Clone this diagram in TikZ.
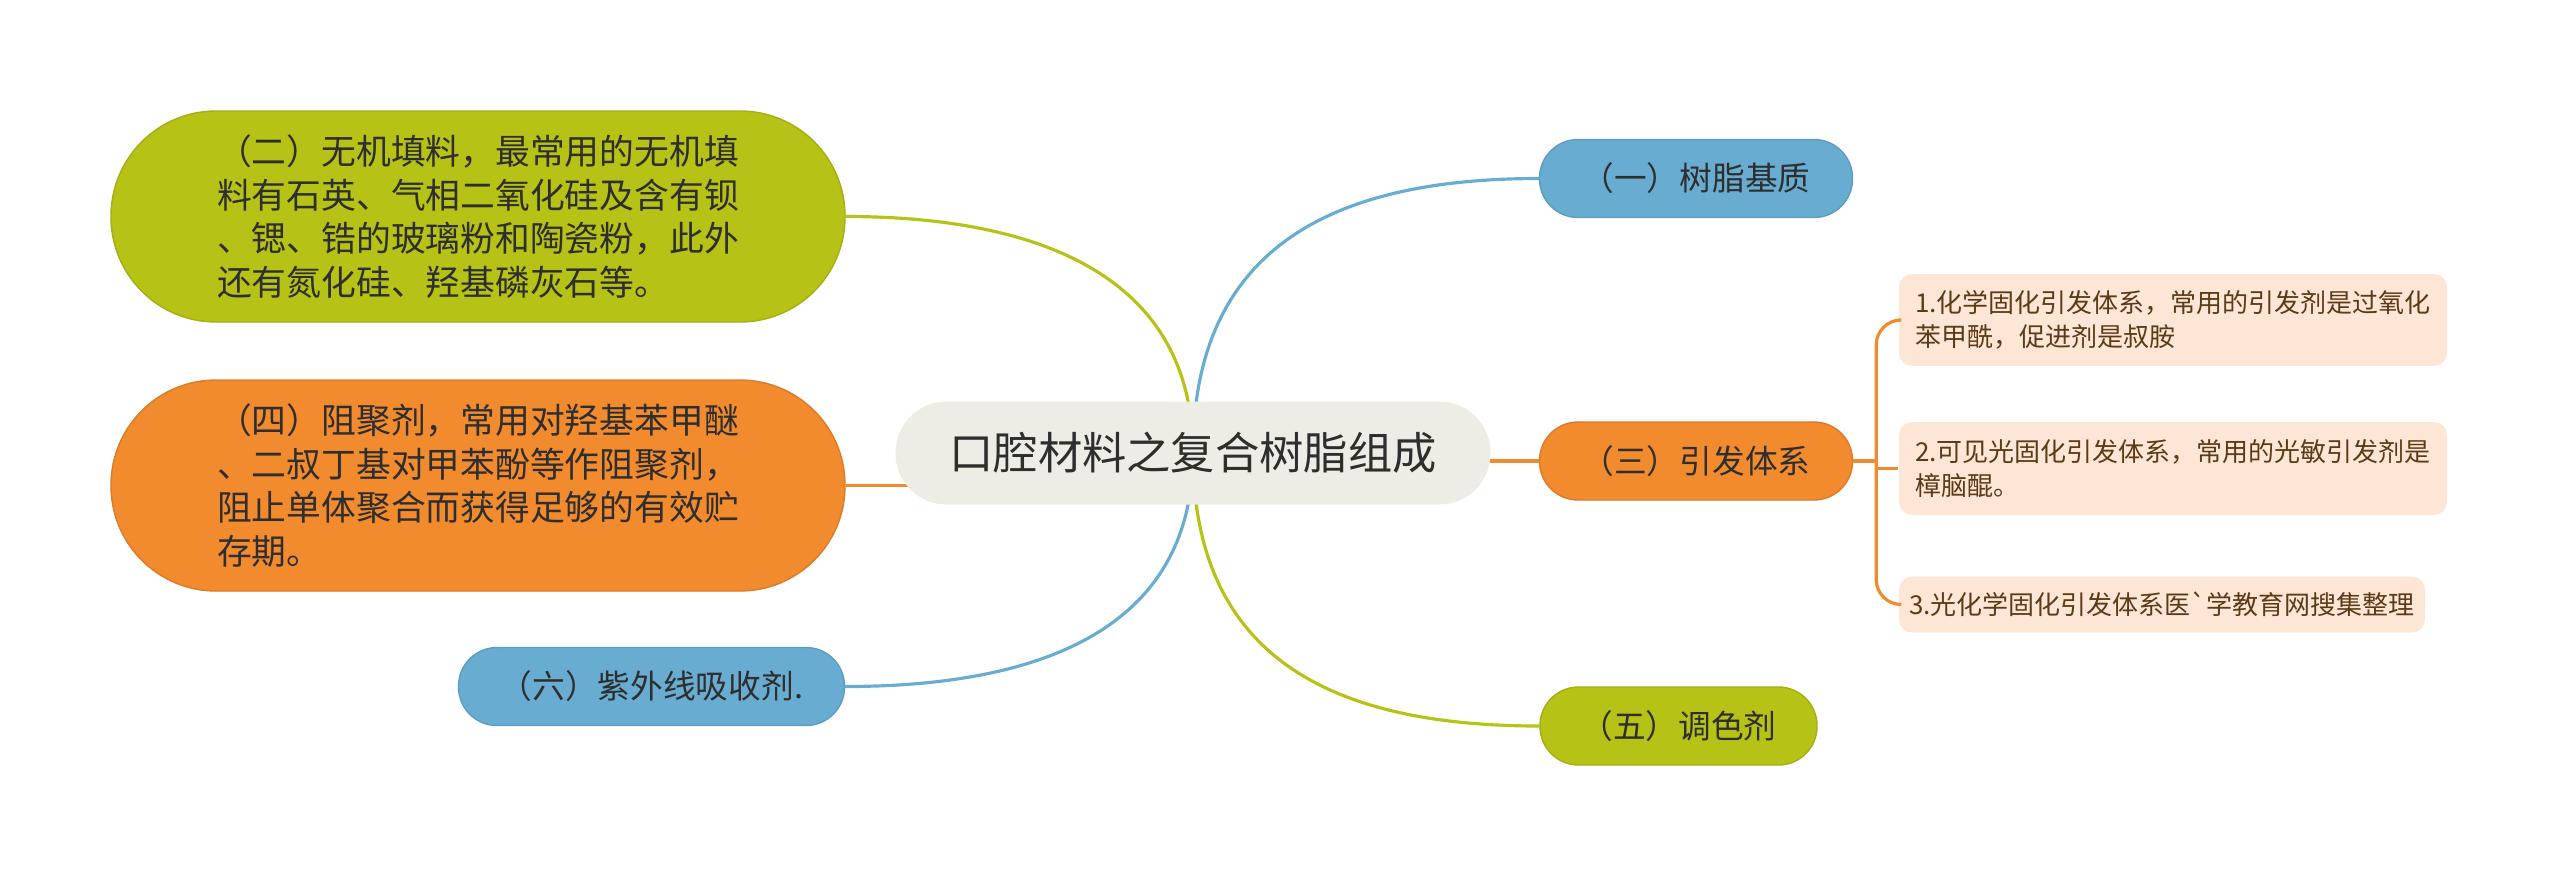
\documentclass[tikz,border=0pt]{standalone}
\usepackage{fontspec}
\newfontfamily\cjk{Noto Sans CJK SC}[Ligatures=TeXOff]
\usepackage{tikz}
\usetikzlibrary{backgrounds}

\definecolor{zblue}{HTML}{68ADD1}
\definecolor{zorange}{HTML}{F28A2E}
\definecolor{zolive}{HTML}{B6C215}
\definecolor{zcentre}{HTML}{EDEDE5}
\definecolor{zsub}{HTML}{FDE6D5}
\definecolor{ztext}{HTML}{2E2E2E}
\definecolor{zbrown}{HTML}{5C3A17}

\begin{document}
\begin{tikzpicture}[
    topic/.style={rectangle, rounded corners=5.1mm, fill=zcentre, text=ztext,
                  minimum width=5.95cm, minimum height=1.03cm,
                  font=\cjk\fontsize{12.6}{15}\selectfont},
    branch/.style={rectangle, rounded corners=3.85mm, draw=#1!90!black, line width=.4pt,
                   fill=#1, text=ztext, minimum height=.78cm, inner sep=0pt,
                   font=\cjk\fontsize{9.3}{11}\selectfont},
    bigbranch/.style={rectangle, rounded corners=10.5mm, draw=#1!90!black, line width=.4pt,
                      fill=#1, text=ztext, minimum width=7.34cm, minimum height=2.11cm,
                      align=left, font=\cjk\fontsize{9.9}{12.4}\selectfont},
    leaf/.style={rectangle, rounded corners=1.3mm, fill=zsub, text=zbrown,
                 minimum width=5.48cm, align=left, inner sep=0pt,
                 font=\cjk\fontsize{7.4}{9.6}\selectfont},
    link/.style={line width=.9pt}]
  \useasboundingbox (0,0) rectangle (25.6,-8.77);

  \node[topic] (root) at (11.93,-4.53) {口腔材料之复合树脂组成};

  \node[branch=zblue, minimum width=3.13cm] (b1) at (16.96,-1.785) {（一）树脂基质};
  \node[branch=zorange, minimum width=3.13cm] (b3) at (16.96,-4.61) {（三）引发体系};
  \node[branch=zolive, minimum width=2.77cm] (b5) at (16.785,-7.26) {（五）调色剂};
  \node[branch=zblue, minimum width=3.86cm] (b6) at (6.515,-6.865) {（六）紫外线吸收剂.};

  \node[bigbranch=zolive] (b2) at (4.78,-2.165)
    {（二）无机填料，最常用的无机填\\料有石英、气相二氧化硅及含有钡\\、锶、锆的玻璃粉和陶瓷粉，此外\\还有氮化硅、羟基磷灰石等。};
  \node[bigbranch=zorange] (b4) at (4.78,-4.855)
    {（四）阻聚剂，常用对羟基苯甲醚\\、二叔丁基对甲苯酚等作阻聚剂，\\阻止单体聚合而获得足够的有效贮\\存期。};

  \node[leaf, minimum height=.92cm] (s1) at (21.73,-3.2)
    {1.化学固化引发体系，常用的引发剂是过氧化\\苯甲酰，促进剂是叔胺};
  \node[leaf, minimum height=.93cm] (s2) at (21.73,-4.685)
    {2.可见光固化引发体系，常用的光敏引发剂是\\樟脑醌。};
  \node[leaf, minimum height=.56cm, minimum width=5.26cm] (s3) at (21.62,-6.045)
    {3.光化学固化引发体系医`学教育网搜集整理};

  \begin{scope}[on background layer]
    \draw[link, zblue] (root.center) .. controls +(0,2.1) and +(-2,0) .. (b1.west);
    \draw[link, zolive] (root.center) .. controls +(0,1.9) and +(1.7,0) .. (b2.east);
    \draw[link, zblue] (root.center) .. controls +(0,-1.9) and +(1.7,0) .. (b6.east);
    \draw[link, zolive] (root.center) .. controls +(0,-2.1) and +(-2,0) .. (b5.west);
    \draw[link, zorange] (b4.east) -- (b4.east -| root.center);
    \draw[link, zorange] (root.center |- b3.west) -- (b3.west);
  \end{scope}

  % bracket to the three leaves
  \coordinate (fork) at ([xshift=2.3mm]b3.east);
  \draw[link, zorange] (b3.east) -- (fork);
  \draw[link, zorange, rounded corners=2.5mm] (fork) |- (s1.west);
  \draw[link, zorange, rounded corners=2.5mm] (fork) |- (s3.west);
  \draw[link, zorange] (fork) |- (s2.west);
\end{tikzpicture}
\end{document}
